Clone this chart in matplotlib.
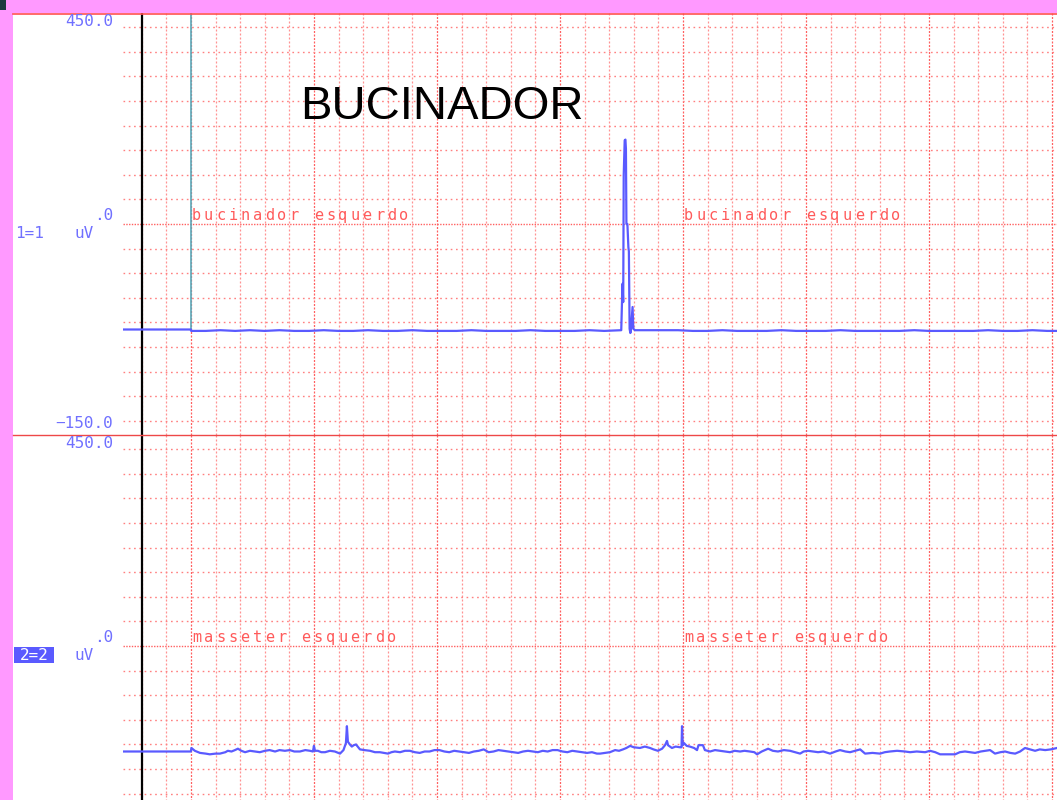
import numpy as np
import matplotlib
matplotlib.use('Agg')
import matplotlib.pyplot as plt
from matplotlib.patches import Rectangle

# canal 1 - bucinador esquerdo (tempo em ms, amplitude em uV)
ch1_t = [-276, 0, 1, 60, 120, 180, 240, 300, 360, 420, 480, 540, 600, 660, 720, 780,
         840, 900, 960, 1020, 1080, 1140, 1200, 1260, 1320, 1380, 1440, 1500, 1560,
         1620, 1680, 1749, 1754, 1757, 1759, 1763, 1766, 1768, 1770, 1774, 1778, 1780,
         1783, 1786, 1788, 1795, 1798, 1805, 1860, 1920, 1980, 2040, 2100, 2160, 2220,
         2280, 2340, 2400, 2460, 2520, 2580, 2640, 2700, 2760, 2820, 2880, 2940, 3000,
         3060, 3120, 3180, 3240, 3300, 3360, 3420, 3480, 3520]
ch1_uv = [0, 0, -2, -2, -1, -2, -1, -2, -1, -2, -2, -1, -2, -2, -1, -2,
          -2, -1, -2, -2, -2, -1, -2, -2, -2, -1, -2, -2, -2,
          -1, -2, -1, 65, 39, 219, 269, 270, 257, 150, 150, 117, 111,
          1, -5, -2, 32, 1, -1, -1, -1, -1, -2, -2, -1, -2,
          -2, -2, -1, -2, -2, -2, -1, -2, -2, -2, -2, -1, -2,
          -2, -2, -2, -1, -2, -2, -1, -2, -2]

# canal 2 - masseter esquerdo
ch2_t = [-276, 0, 2, 16, 37, 60, 77, 100, 118, 140, 150, 165, 179, 191, 205, 220, 240,
         260, 280, 301, 320, 342, 360, 382, 402, 420, 443, 465, 484, 496, 500, 504, 516,
         530, 545, 565, 585, 606, 620, 630, 634, 638, 646, 654, 662, 671, 687, 705, 728,
         748, 768, 785, 801, 815, 829, 850, 870, 890, 910, 930, 950, 970, 990, 1010,
         1030, 1050, 1070, 1090, 1110, 1130, 1150, 1170, 1190, 1210, 1230, 1250, 1270,
         1290, 1310, 1330, 1350, 1370, 1390, 1410, 1430, 1450, 1470, 1490, 1510, 1530,
         1550, 1570, 1590, 1610, 1630, 1650, 1663, 1703, 1724, 1740, 1756, 1770, 1785,
         1800, 1825, 1845, 1866, 1880, 1898, 1915, 1927, 1935, 1939, 1955, 1970, 1988,
         1994, 1996, 1999, 2004, 2015, 2028, 2045, 2057, 2063, 2081, 2089, 2100, 2110,
         2130, 2150, 2170, 2191, 2210, 2232, 2250, 2272, 2290, 2301, 2320, 2346, 2365,
         2386, 2410, 2435, 2455, 2476, 2490, 2508, 2530, 2549, 2570, 2598, 2620, 2638,
         2660, 2679, 2700, 2720, 2730, 2740, 2770, 2801, 2820, 2841, 2870, 2902, 2923,
         2950, 2984, 3004, 3025, 3045, 3075, 3106, 3125, 3146, 3165, 3187, 3210, 3248,
         3268, 3290, 3309, 3330, 3350, 3370, 3390, 3410, 3431, 3450, 3472, 3495, 3520]
ch2_uv = [0, 0, 5, 1, -2, -3, -4, -3, -3, -1, 1, 0, 2, 4, 1, -1, 1,
          0, -1, 1, 2, 0, 2, 1, 2, 0, 0, 2, 1, 0, 8, 1, 1,
          -1, -1, 1, 0, -3, 2, 12, 36, 14, 10, 7, 9, 10, 3, 2, 1,
          -1, -1, -2, -3, -1, 0, -1, 1, 1, -1, -2, 0, 0, 2, 2,
          0, -1, 1, 0, -1, -2, 0, 1, 3, -1, 0, 2, 1,
          0, -1, -2, 0, 1, 0, -1, 1, 0, 2, 2, 0, -1,
          1, 0, -1, -2, -1, -3, -3, -1, 2, 1, 3, 5, 8,
          6, 5, 7, 5, 3, 1, 4, 9, 15, 9, 5, 7, 6,
          6, 36, 9, 12, 8, 7, 5, 2, 9, 9, 2, 1, 0,
          2, 1, 0, -1, 1, 0, 1, 0, -1, -4, 0, 4, 1,
          0, 2, 1, -1, -3, 0, 1, 0, -1, 0, -3, 0, 2,
          0, -1, 1, 3, 0, -3, -2, -3, -1, 0, 1, 0, -1,
          0, -1, 1, -1, -4, -4, -4, -1, 0, -1, -2, 0, 2,
          -3, -1, 0, -2, -3, 0, 5, 3, 1, 3, 2, 3, 5]

channel_names = ['bucinador esquerdo', 'masseter esquerdo']
label_starts = [0, 2000]
y_range = (-150, 450)

W, H = 1057, 800
pink = '#ff99ff'
grid_red = '#ff8080'
trace_blue = '#5a5aff'
label_blue = '#7070ff'
text_red = '#ff5a5a'


def fx(px):
    return px / W


def fy(py):
    return 1 - py / H


fig = plt.figure(figsize=(W / 100, H / 100), dpi=100, facecolor=pink)
fig.patches.append(Rectangle((fx(13), 0), 1 - fx(13), fy(13), transform=fig.transFigure,
                             facecolor='white', edgecolor='none', zorder=-2))
fig.patches.append(Rectangle((0, fy(10)), fx(6), 10 / H, transform=fig.transFigure,
                             facecolor='#1d3940', edgecolor='none', zorder=-1))

ax1 = fig.add_axes([fx(123), fy(435), fx(934), 422 / H])
ax2 = fig.add_axes([fx(123), fy(857), fx(934), 422 / H])

for ax, t, uv, name in zip([ax1, ax2], [ch1_t, ch2_t], [ch1_uv, ch2_uv], channel_names):
    ax.set_xlim(-276, 3520)
    ax.set_ylim(*y_range)
    ax.set_axis_off()
    ax.patch.set_visible(False)
    for gx in np.arange(-200, 3501, 100):
        if gx % 500 == 0:
            ax.axvline(gx, color='#ff6060', lw=0.9, ls=(0, (1.6, 1.2)), zorder=1)
        else:
            ax.axvline(gx, color=grid_red, lw=0.9, ls=(0, (1.6, 1.6)), alpha=0.85, zorder=1)
    for gy in np.arange(-130, 431, 35):
        if gy == 150:
            ax.axhline(gy, color='#ff6060', lw=1.0, ls=(0, (1.0, 1.0)), zorder=1)
        else:
            ax.axhline(gy, color=grid_red, lw=1.0, ls=(0, (1.2, 2.6)), zorder=1)
    ax.axvline(-200, color='black', lw=1.6, zorder=2)
    ax.plot(t, uv, color=trace_blue, lw=1.6, zorder=4)
    # nome do canal, letra a letra (espacamento largo)
    for start in label_starts:
        for i, ch in enumerate(name):
            ax.text(start + 22 + i * 49.6, 155, ch, ha='center', va='baseline',
                    color=text_red, fontsize=11, family='DejaVu Sans Mono', zorder=3)

# cursor no canal 1
ax1.vlines(0, 0, 450, color='#5aa8b8', lw=1.2, zorder=3)

ax1.text(1020, 299, 'BUCINADOR', ha='center', va='baseline', fontsize=34,
         family='Liberation Sans', color='black', zorder=5)

# linhas de separacao
fig.add_artist(plt.Line2D([fx(13), 1], [fy(13.5), fy(13.5)], color='#ff5050', lw=1.2))
fig.add_artist(plt.Line2D([fx(13), 1], [fy(435), fy(435)], color='#ee4848', lw=1.0))

mono = dict(family='DejaVu Sans Mono', fontsize=11.5, color=label_blue)
fig.text(fx(113), fy(22), '450.0', ha='right', va='center', **mono)
fig.text(fx(113), fy(216), '.0', ha='right', va='center', **mono)
fig.text(fx(15), fy(233), '1=1', ha='left', va='center', **mono)
fig.text(fx(74), fy(234), 'uV', ha='left', va='center', **mono)
fig.text(fx(113), fy(424), '\u2212150.0', ha='right', va='center', **mono)

fig.text(fx(113), fy(443), '450.0', ha='right', va='center', **mono)
fig.text(fx(113), fy(638), '.0', ha='right', va='center', **mono)
fig.patches.append(Rectangle((fx(14), fy(663)), fx(40), 16 / H, transform=fig.transFigure,
                             facecolor='#5a5aff', edgecolor='none', zorder=2))
fig.text(fx(34), fy(655), '2=2', ha='center', va='center', family='DejaVu Sans Mono',
         fontsize=11.5, color='white', zorder=3)
fig.text(fx(74), fy(655), 'uV', ha='left', va='center', **mono)

fig.savefig('out.png', dpi=100, facecolor=pink)
